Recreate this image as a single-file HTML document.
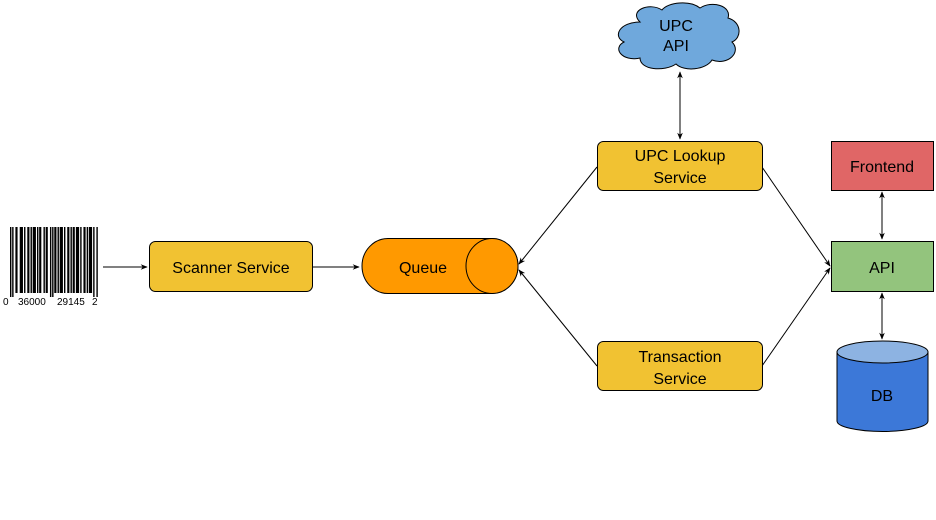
<!DOCTYPE html>
<html><head><meta charset="utf-8"><style>
html,body{margin:0;padding:0;background:#fff;}
svg{display:block;}
text{font-family:"Liberation Sans",Arial,sans-serif;}
</style></head><body>
<svg width="936" height="520" viewBox="0 0 936 520" xmlns="http://www.w3.org/2000/svg">
<defs>
<marker id="a" viewBox="0 0 10 10" refX="9" refY="5" markerWidth="7" markerHeight="7" orient="auto-start-reverse"><path d="M0,1 L10,5 L0,9 L3,5 Z" fill="#000"/></marker>
</defs>
<!-- barcode -->
<g fill="#000" transform="translate(10,0) scale(1.08,1) translate(-10,0)">
<rect x="10" y="227" width="1.3" height="70"/><rect x="12" y="227" width="1.3" height="70"/>
<rect x="15" y="227" width="2" height="66"/><rect x="19" y="227" width="3" height="66"/><rect x="23" y="227" width="1.3" height="66"/><rect x="26" y="227" width="2" height="66"/><rect x="29" y="227" width="1.3" height="66"/><rect x="31" y="227" width="3" height="66"/><rect x="35" y="227" width="1.3" height="66"/><rect x="37" y="227" width="2" height="66"/><rect x="41" y="227" width="1.3" height="66"/><rect x="43" y="227" width="2" height="66"/>
<rect x="47" y="227" width="1.3" height="70"/><rect x="49" y="227" width="1.3" height="70"/>
<rect x="51" y="227" width="2" height="66"/><rect x="54" y="227" width="1.3" height="66"/><rect x="56" y="227" width="3" height="66"/><rect x="60" y="227" width="1.3" height="66"/><rect x="63" y="227" width="2" height="66"/><rect x="66" y="227" width="1.3" height="66"/><rect x="68" y="227" width="2" height="66"/><rect x="71" y="227" width="3" height="66"/><rect x="75" y="227" width="1.3" height="66"/><rect x="78" y="227" width="2" height="66"/><rect x="81" y="227" width="1.3" height="66"/><rect x="83" y="227" width="3" height="66"/>
<rect x="87" y="227" width="1.3" height="70"/><rect x="90" y="227" width="1.3" height="70"/>
</g>
<text x="3" y="305" font-size="10">0</text>
<text x="18" y="305" font-size="10">36000</text>
<text x="57" y="305" font-size="10">29145</text>
<text x="92" y="305" font-size="10">2</text>

<!-- connectors -->
<g stroke="#000" stroke-width="1" fill="none">
<line x1="103" y1="267" x2="147" y2="267" marker-end="url(#a)"/>
<line x1="313" y1="267" x2="359" y2="267" marker-end="url(#a)"/>
<line x1="597" y1="167" x2="519" y2="264" marker-end="url(#a)"/>
<line x1="597" y1="366" x2="519" y2="270" marker-end="url(#a)"/>
<line x1="762" y1="167" x2="830" y2="266" marker-end="url(#a)"/>
<line x1="762" y1="366" x2="830" y2="268" marker-end="url(#a)"/>
<line x1="680" y1="72" x2="680" y2="139" marker-start="url(#a)" marker-end="url(#a)"/>
<line x1="882" y1="192" x2="882" y2="239" marker-start="url(#a)" marker-end="url(#a)"/>
<line x1="882" y1="293" x2="882" y2="339" marker-start="url(#a)" marker-end="url(#a)"/>
</g>

<!-- cloud -->
<path d="M640,22 C628,10 650,2 662,10 C668,2 690,0 700,8 C712,0 732,6 728,18 C742,22 742,38 732,42 C742,52 728,66 712,60 C706,70 684,72 676,64 C664,72 640,70 640,58 C622,62 612,48 624,42 C612,36 620,22 640,22 Z" fill="#6fa8dc" stroke="#000" stroke-width="1"/>
<text x="676" y="31" font-size="16" text-anchor="middle">UPC</text>
<text x="676" y="51" font-size="16" text-anchor="middle">API</text>

<!-- boxes -->
<g stroke="#000" stroke-width="1">
<rect x="149.5" y="241.5" width="163" height="50" rx="6" fill="#f1c232"/>
<rect x="597.5" y="141.5" width="165" height="49" rx="6" fill="#f1c232"/>
<rect x="597.5" y="341.5" width="165" height="49" rx="6" fill="#f1c232"/>
<rect x="831.5" y="141.5" width="102" height="49" fill="#e06666"/>
<rect x="831.5" y="241.5" width="102" height="50" fill="#93c47d"/>
</g>
<text x="231" y="273" font-size="16" text-anchor="middle">Scanner Service</text>
<text x="680" y="161" font-size="16" text-anchor="middle">UPC Lookup</text>
<text x="680" y="183" font-size="16" text-anchor="middle">Service</text>
<text x="680" y="362" font-size="16" text-anchor="middle">Transaction</text>
<text x="680" y="384" font-size="16" text-anchor="middle">Service</text>
<text x="882" y="172" font-size="16" text-anchor="middle">Frontend</text>
<text x="882" y="273" font-size="16" text-anchor="middle">API</text>

<!-- queue -->
<path d="M388,238.5 L492,238.5 A26,27.5 0 0 1 492,293.5 L388,293.5 A26,27.5 0 0 1 388,238.5 Z" fill="#ff9900" stroke="#000"/>
<ellipse cx="492" cy="266" rx="26" ry="27.5" fill="#ff9900" stroke="#000"/>
<text x="423" y="273" font-size="16" text-anchor="middle">Queue</text>

<!-- DB -->
<path d="M837,352 L837,421 A45.5,10.5 0 0 0 928,421 L928,352" fill="#3c78d8" stroke="#000"/>
<ellipse cx="882.5" cy="352" rx="45.5" ry="11" fill="#8db3e2" stroke="#000"/>
<text x="882" y="401" font-size="16" text-anchor="middle">DB</text>
</svg>
</body></html>
